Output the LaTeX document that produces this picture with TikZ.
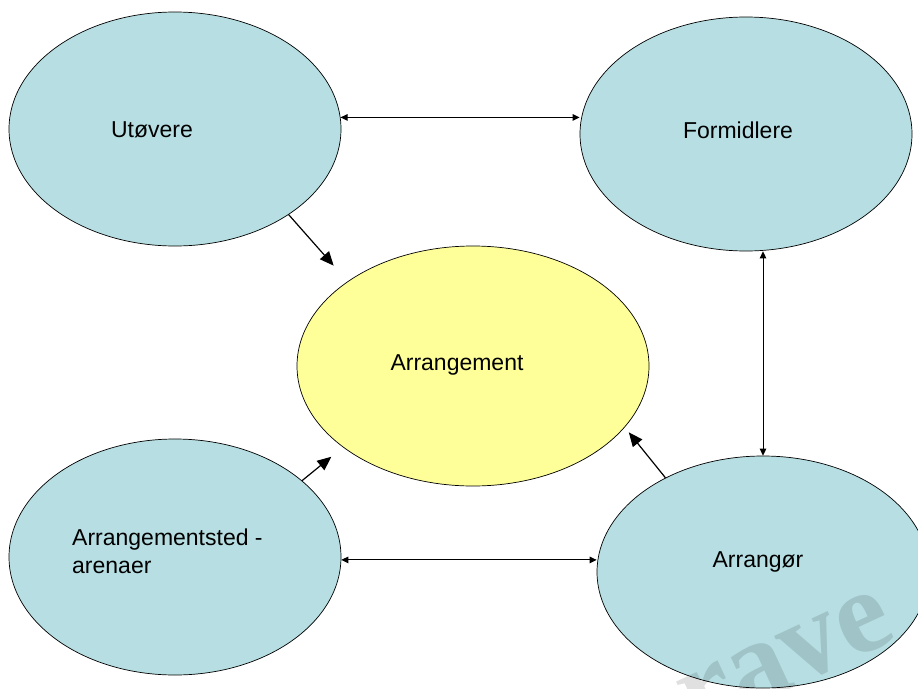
\documentclass[tikz,border=0pt]{standalone}
\usepackage{fontspec}
\setmainfont{Liberation Sans}
\newfontfamily\wmfont{Liberation Serif}
\usetikzlibrary{shapes.geometric,arrows.meta}
\definecolor{roleblue}{HTML}{B7DFE3}
\definecolor{eventyellow}{HTML}{FFFF99}
\tikzset{
  role/.style={ellipse, draw=black, line width=0.7pt, fill=roleblue, inner sep=0pt},
  event/.style={ellipse, draw=black, line width=0.7pt, fill=eventyellow, inner sep=0pt},
  lbl/.style={inner sep=0pt, anchor=base, font=\fontsize{23}{28}\selectfont},
  both/.style={line width=1pt, {Triangle[length=7pt,width=6.5pt]}-{Triangle[length=7pt,width=6.5pt]}},
  feed/.style={line width=1.2pt, -{Triangle[length=14pt,width=12pt]}}
}
\begin{document}
\begin{tikzpicture}[x=1pt,y=-1pt]
\useasboundingbox (0,0) rectangle (918,688);

% the five parties
\node[role, minimum width=332pt, minimum height=234pt] (u) at (175,129) {};
\node[role, minimum width=332pt, minimum height=234pt] (f) at (746,134) {};
\node[event, minimum width=352pt, minimum height=240pt] (a) at (473,366) {};
\node[role, minimum width=332pt, minimum height=236pt] (s) at (175,557) {};
\node[role, minimum width=332pt, minimum height=232pt] (r) at (763,572) {};

% labels
\node[lbl] (ut) at (152,137) {Utøvere};
\node[lbl] (ft) at (738,138) {Formidlere};
\node[lbl] (at) at (457,370) {Arrangement};
\node[lbl] (rt) at (758,567) {Arrangør};
\node[lbl, anchor=base west] (st1) at (72,545) {Arrangementsted -};
\node[lbl, anchor=base west] (st2) at (72,573) {arenaer};

% two-way links
\draw[both] (u.4.2) -- (u.4.2 -| f.west);
\draw[both] (s.-1.7) -- (s.-1.7 -| r.west);
\draw[both] (r.north |- f.south) -- (r.north);

% links into the event
\draw[feed, shorten >=21pt] (u.-37.5) -- (a.146.6);
\draw[feed, shorten >=15pt] (s.31.7) -- (a.212.6);
\draw[feed, shorten >=6.5pt] (r.136.7) -- (a.-22.8);

% watermark
\node[inner sep=0pt, rotate=25, text=black, text opacity=0.12,
      font=\wmfont\bfseries\fontsize{118}{118}\selectfont] (wm) at (786,661) {rave};
\end{tikzpicture}
\end{document}
